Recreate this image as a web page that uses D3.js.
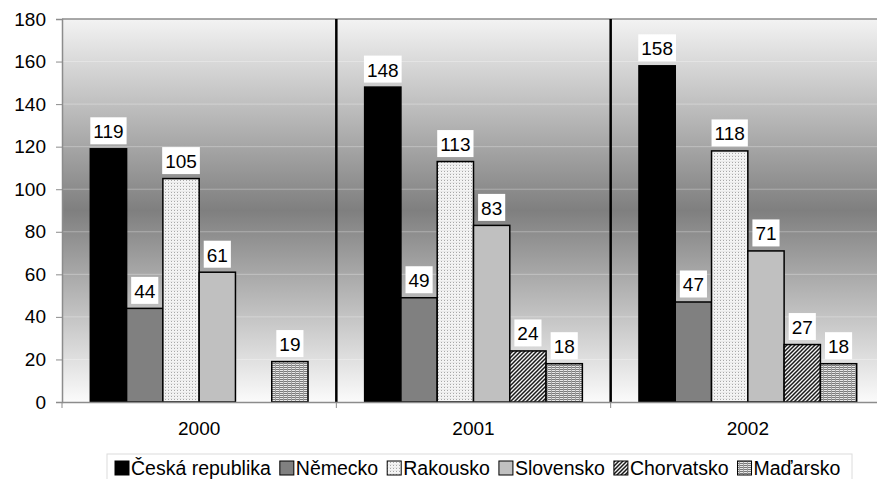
<!DOCTYPE html>
<html>
<head>
<meta charset="utf-8">
<script src="https://cdn.jsdelivr.net/npm/d3@7/dist/d3.min.js"></script>
<style>
  html, body { margin: 0; padding: 0; background: #fff; }
  svg { display: block; font-family: "Liberation Sans", Arial, sans-serif; }
</style>
</head>
<body>
<svg id="chart" width="877" height="479"></svg>
<script>
// Years on the category axis
const years = ["2000", "2001", "2002"];
// Countries (one bar per country in each year)
const countries = ["Česká republika", "Německo", "Rakousko", "Slovensko", "Chorvatsko", "Maďarsko"];
// Values per country, in year order (null = no bar)
const ceskaRepublika = [119, 148, 158];
const nemecko = [44, 49, 47];
const rakousko = [105, 113, 118];
const slovensko = [61, 83, 71];
const chorvatsko = [null, 24, 27];
const madarsko = [19, 18, 18];
const yTicks = [0, 20, 40, 60, 80, 100, 120, 140, 160, 180];

const seriesValues = [ceskaRepublika, nemecko, rakousko, slovensko, chorvatsko, madarsko];

const svg = d3.select("#chart");
const plotLeft = 62, plotRight = 885, plotTop = 19, plotBottom = 402;
const FONT = "Liberation Sans, Arial, sans-serif";

const x0 = d3.scaleBand().domain(years).range([plotLeft, plotRight]).padding(0);
const x1 = d3.scaleBand().domain(countries).range([0, x0.bandwidth()])
  .paddingInner(0).paddingOuter(0.78);
const y = d3.scaleLinear().domain([0, 180]).range([plotBottom, plotTop]);

const defs = svg.append("defs");

// Background gradient of the plot area
const grad = defs.append("linearGradient").attr("id", "bg")
  .attr("x1", 0).attr("y1", 0).attr("x2", 0).attr("y2", 1);
grad.append("stop").attr("offset", "0%").attr("stop-color", "#f3f3f3");
grad.append("stop").attr("offset", "50%").attr("stop-color", "#7f7f7f");
grad.append("stop").attr("offset", "100%").attr("stop-color", "#fbfbfb");

// Fill patterns
const pDots = defs.append("pattern").attr("id", "pDots")
  .attr("width", 3).attr("height", 3).attr("patternUnits", "userSpaceOnUse");
pDots.append("rect").attr("width", 3).attr("height", 3).attr("fill", "#f4f4f4");
pDots.append("rect").attr("width", 1).attr("height", 1).attr("fill", "#a8a8a8");
pDots.append("rect").attr("x", 0).attr("y", 2).attr("width", 3).attr("height", 0.5).attr("fill", "#e0e0e0");

const pDiag = defs.append("pattern").attr("id", "pDiag")
  .attr("width", 4).attr("height", 4).attr("patternUnits", "userSpaceOnUse");
pDiag.append("rect").attr("width", 4).attr("height", 4).attr("fill", "#f4f4f4");
pDiag.append("path").attr("d", "M-1,1 l2,-2 M0,4 l4,-4 M3,5 l2,-2")
  .attr("stroke", "#1a1a1a").attr("stroke-width", 1.5);

const pGrid = defs.append("pattern").attr("id", "pGrid")
  .attr("width", 4).attr("height", 2).attr("patternUnits", "userSpaceOnUse");
pGrid.append("rect").attr("width", 4).attr("height", 2).attr("fill", "#e8e8e8");
pGrid.append("rect").attr("y", 1).attr("width", 4).attr("height", 1).attr("fill", "#7a7a7a");
pGrid.append("rect").attr("x", 3).attr("width", 1).attr("height", 2).attr("fill", "#a0a0a0");

const fills = ["#000000", "#808080", "url(#pDots)", "#c0c0c0", "url(#pDiag)", "url(#pGrid)"];
const color = d3.scaleOrdinal().domain(countries).range(fills);

// Plot background
svg.append("rect").attr("x", plotLeft).attr("y", plotTop)
  .attr("width", plotRight - plotLeft).attr("height", plotBottom - plotTop).attr("fill", "url(#bg)");

// Horizontal gridlines
svg.append("g").selectAll("line").data(yTicks.filter(t => t > 0 && t < 180)).join("line")
  .attr("x1", plotLeft).attr("x2", plotRight)
  .attr("y1", d => y(d)).attr("y2", d => y(d))
  .attr("stroke", "#ffffff").attr("stroke-opacity", 0.3).attr("stroke-width", 1);

// Top border of the plot area
svg.append("line").attr("x1", plotLeft).attr("x2", plotRight).attr("y1", plotTop).attr("y2", plotTop)
  .attr("stroke", "#8c8c8c").attr("stroke-width", 1.5);

// Year separators
svg.append("g").selectAll("line").data(years.slice(1)).join("line")
  .attr("x1", d => x0(d)).attr("x2", d => x0(d))
  .attr("y1", plotTop).attr("y2", plotBottom)
  .attr("stroke", "#000").attr("stroke-width", 2.5);

// Bars
const rows = [];
years.forEach((yr, i) => countries.forEach((c, j) => {
  const v = seriesValues[j][i];
  if (v !== null) rows.push({ year: yr, country: c, value: v });
}));

const bars = svg.append("g");
bars.selectAll("rect").data(rows).join("rect")
  .attr("x", d => x0(d.year) + x1(d.country))
  .attr("y", d => y(d.value))
  .attr("width", x1.bandwidth())
  .attr("height", d => y(0) - y(d.value))
  .attr("fill", d => color(d.country))
  .attr("stroke", "#000").attr("stroke-width", 1.5);

// Value labels in white boxes
const labels = svg.append("g").attr("font-size", 19).attr("fill", "#000");
rows.forEach(d => {
  const cx = x0(d.year) + x1(d.country) + x1.bandwidth() / 2;
  const g = labels.append("g");
  const t = g.append("text").attr("x", cx).attr("y", y(d.value) - 10.5)
    .attr("text-anchor", "middle").text(d.value);
  const w = t.node().getComputedTextLength();
  g.insert("rect", "text")
    .attr("x", cx - w / 2 - 3).attr("y", y(d.value) - 31.5)
    .attr("width", w + 6).attr("height", 27).attr("fill", "#fff");
});

// Y axis
const yAxis = svg.append("g").attr("transform", `translate(${plotLeft},0)`)
  .call(d3.axisLeft(y).tickValues(yTicks).tickSize(6).tickPadding(10));
yAxis.select(".domain").attr("stroke", "#8c8c8c").attr("stroke-width", 1.5);
yAxis.selectAll(".tick line").attr("stroke", "#8c8c8c");
yAxis.selectAll("text").attr("font-size", 19).attr("font-family", FONT).attr("fill", "#000");

// X axis
const xAxis = svg.append("g").attr("transform", `translate(0,${plotBottom})`)
  .call(d3.axisBottom(x0).tickSize(0).tickPadding(20));
xAxis.select(".domain").attr("stroke", "#8c8c8c").attr("stroke-width", 1.5);
xAxis.selectAll("text").attr("font-size", 19).attr("font-family", FONT).attr("fill", "#000");
// Small tick marks at the year boundaries
svg.append("g").selectAll("line").data(years).join("line")
  .attr("x1", d => x0(d)).attr("x2", d => x0(d))
  .attr("y1", plotBottom).attr("y2", plotBottom + 6)
  .attr("stroke", "#8c8c8c");

// Legend
const legend = svg.append("g").attr("font-size", 19.5);
legend.append("rect").attr("x", 107).attr("y", 454).attr("width", 745).attr("height", 32)
  .attr("fill", "#fff").attr("stroke", "#dcdcdc").attr("stroke-width", 1);
let lx = 115;
const ly = 475;
countries.forEach(c => {
  legend.append("rect").attr("x", lx).attr("y", ly - 14)
    .attr("width", 14).attr("height", 14)
    .attr("fill", color(c)).attr("stroke", "#000").attr("stroke-width", 1);
  const t = legend.append("text").attr("x", lx + 16).attr("y", ly).text(c);
  lx += 16 + t.node().getComputedTextLength() + 9;
});
</script>
</body>
</html>
